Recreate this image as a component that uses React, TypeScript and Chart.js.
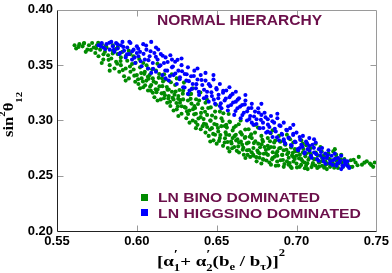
import React, { useEffect, useRef } from "react";
import { Chart, registerables } from "chart.js";

Chart.register(...registerables);

const xTicks = [0.55, 0.6, 0.65, 0.7, 0.75];
const yTicks = [0.2, 0.25, 0.3, 0.35, 0.4];
const titleText = "NORMAL HIERARCHY";
const seriesLabels = ["LN BINO DOMINATED", "LN HIGGSINO DOMINATED"];

const binoPoints: number[][] = [
  [0.561,0.368],[0.562,0.365],[0.564,0.369],[0.566,0.367],[0.567,0.370],[0.569,0.364],[0.570,0.368],[0.568,0.362],[0.572,0.370],[0.573,0.366],
  [0.574,0.361],[0.575,0.368],[0.576,0.358],[0.577,0.364],[0.578,0.369],[0.579,0.355],[0.580,0.362],[0.578,0.352],[0.581,0.366],[0.582,0.359],
  [0.583,0.350],[0.584,0.356],[0.585,0.363],[0.586,0.347],[0.587,0.353],[0.588,0.360],[0.589,0.344],[0.590,0.350],[0.585,0.368],[0.588,0.366],[0.590,0.357],[0.583,0.345],
  [0.591,0.362],[0.592,0.340],[0.593,0.347],[0.594,0.354],[0.595,0.338],[0.596,0.344],[0.597,0.351],[0.598,0.358],[0.599,0.335],[0.600,0.341],[0.598,0.346],[0.593,0.336],[0.596,0.360],
  [0.601,0.333],[0.602,0.348],[0.603,0.338],[0.604,0.330],[0.605,0.344],[0.606,0.336],[0.607,0.327],[0.608,0.341],[0.609,0.332],[0.610,0.325],[0.604,0.352],[0.607,0.347],[0.610,0.338],[0.602,0.329],
  [0.611,0.321],[0.612,0.334],[0.613,0.328],[0.614,0.342],[0.615,0.319],[0.616,0.331],[0.617,0.325],[0.618,0.337],[0.619,0.316],[0.620,0.328],[0.613,0.318],[0.617,0.320],[0.620,0.322],[0.612,0.345],
  [0.621,0.313],[0.622,0.326],[0.623,0.319],[0.624,0.332],[0.625,0.310],[0.626,0.322],[0.627,0.316],[0.628,0.306],[0.629,0.327],[0.630,0.312],[0.623,0.309],[0.626,0.304],[0.629,0.319],[0.625,0.338],
  [0.631,0.302],[0.632,0.318],[0.633,0.309],[0.634,0.324],[0.635,0.300],[0.636,0.313],[0.637,0.306],[0.638,0.296],[0.639,0.318],[0.640,0.303],[0.633,0.298],[0.637,0.293],[0.640,0.292],[0.635,0.329],
  [0.641,0.311],[0.642,0.297],[0.643,0.289],[0.644,0.305],[0.645,0.286],[0.646,0.300],[0.647,0.293],[0.648,0.282],[0.649,0.308],[0.650,0.296],[0.643,0.316],[0.646,0.281],[0.649,0.287],[0.650,0.279],[0.644,0.294],
  [0.651,0.290],[0.652,0.284],[0.653,0.302],[0.654,0.277],[0.655,0.295],[0.656,0.287],[0.657,0.275],[0.658,0.299],[0.659,0.281],[0.660,0.291],[0.652,0.308],[0.655,0.280],[0.658,0.272],[0.660,0.284],[0.656,0.296],
  [0.661,0.276],[0.662,0.295],[0.663,0.283],[0.664,0.271],[0.665,0.289],[0.666,0.278],[0.667,0.269],[0.668,0.285],[0.669,0.273],[0.670,0.292],[0.662,0.287],[0.665,0.300],[0.668,0.266],[0.670,0.280],[0.664,0.280],
  [0.671,0.267],[0.672,0.284],[0.673,0.275],[0.674,0.289],[0.675,0.263],[0.676,0.279],[0.677,0.270],[0.678,0.286],[0.679,0.265],[0.680,0.276],[0.673,0.268],[0.676,0.271],[0.679,0.281],[0.674,0.296],[0.678,0.261],
  [0.681,0.270],[0.682,0.284],[0.683,0.262],[0.684,0.276],[0.685,0.266],[0.686,0.280],[0.687,0.259],[0.688,0.272],[0.689,0.286],[0.690,0.264],[0.682,0.277],[0.685,0.291],[0.688,0.268],[0.690,0.275],[0.684,0.260],
  [0.691,0.269],[0.692,0.258],[0.693,0.278],[0.694,0.263],[0.695,0.271],[0.696,0.283],[0.697,0.257],[0.698,0.267],[0.699,0.274],[0.700,0.261],[0.692,0.273],[0.695,0.260],[0.698,0.280],[0.700,0.268],[0.694,0.287],
  [0.701,0.272],[0.702,0.258],[0.703,0.265],[0.704,0.279],[0.705,0.262],[0.706,0.270],[0.707,0.256],[0.708,0.266],[0.709,0.275],[0.710,0.260],[0.703,0.282],[0.706,0.259],[0.709,0.268],[0.704,0.271],
  [0.711,0.265],[0.712,0.271],[0.713,0.257],[0.714,0.262],[0.715,0.276],[0.716,0.259],[0.717,0.268],[0.718,0.263],[0.719,0.256],[0.720,0.270],[0.712,0.279],[0.716,0.266],[0.719,0.261],
  [0.721,0.258],[0.722,0.264],[0.723,0.272],[0.724,0.260],[0.725,0.267],[0.726,0.257],[0.727,0.263],[0.728,0.269],[0.729,0.259],[0.730,0.265],[0.724,0.274],
  [0.732,0.260],[0.734,0.264],[0.735,0.258],[0.737,0.262],[0.739,0.267],[0.741,0.260],[0.744,0.263],[0.746,0.261],[0.748,0.258],[0.749,0.262],
  [0.5635,0.3665],[0.5712,0.3638],[0.5668,0.3695],[0.5745,0.3652],[0.5791,0.3598],[0.5758,0.3702],[0.5823,0.3548],[0.5849,0.3605],[0.5806,0.3672],[0.5877,0.3512],[0.5868,0.3645],[0.5912,0.3455],[0.5931,0.3582],[0.5898,0.3538],[0.5957,0.3488],[0.5949,0.3631],[0.5984,0.3405],[0.6015,0.3555],[0.5992,0.3522],[0.6038,0.3352],[0.6061,0.3498],[0.6047,0.3421],[0.6083,0.3305],[0.6096,0.3462],[0.6074,0.3378],
  [0.6118,0.3282],[0.6137,0.3385],[0.6129,0.3512],[0.6155,0.3245],[0.6171,0.3418],[0.6188,0.3302],[0.6164,0.3352],[0.6197,0.3198],[0.6213,0.3345],[0.6236,0.3232],[0.6248,0.3158],[0.6219,0.3418],[0.6267,0.3275],[0.6281,0.3128],[0.6295,0.3342],[0.6259,0.3195],[0.6314,0.3082],[0.6328,0.3235],[0.6342,0.3152],[0.6359,0.3055],[0.6371,0.3192],[0.6386,0.3018],[0.6398,0.3252],[0.6365,0.3112],
  [0.6412,0.2948],[0.6427,0.3078],[0.6439,0.3188],[0.6458,0.2918],[0.6471,0.3045],[0.6485,0.2968],[0.6496,0.3142],[0.6463,0.3118],[0.6515,0.2815],[0.6529,0.2948],[0.6542,0.3065],[0.6556,0.2892],[0.6568,0.2805],[0.6583,0.2985],[0.6597,0.2748],[0.6575,0.3058],[0.6611,0.2858],[0.6626,0.2725],[0.6638,0.2965],[0.6652,0.2808],[0.6667,0.2752],[0.6679,0.2918],[0.6694,0.2688],[0.6658,0.2872],
  [0.6707,0.2852],[0.6719,0.2712],[0.6733,0.2795],[0.6748,0.2668],[0.6759,0.2935],[0.6772,0.2758],[0.6786,0.2825],[0.6795,0.2698],[0.6812,0.2638],[0.6826,0.2745],[0.6838,0.2885],[0.6851,0.2712],[0.6867,0.2818],[0.6879,0.2628],[0.6892,0.2748],[0.6863,0.2672],[0.6915,0.2642],[0.6928,0.2785],[0.6942,0.2695],[0.6957,0.2615],[0.6966,0.2755],[0.6981,0.2628],[0.6993,0.2722],[0.6972,0.2682],
  [0.7016,0.2655],[0.7029,0.2598],[0.7043,0.2742],[0.7055,0.2675],[0.7068,0.2612],[0.7082,0.2712],[0.7094,0.2578],[0.7061,0.2775],[0.7118,0.2592],[0.7132,0.2685],[0.7146,0.2625],[0.7158,0.2718],[0.7173,0.2572],[0.7186,0.2665],[0.7195,0.2608],[0.7221,0.2625],[0.7236,0.2572],[0.7248,0.2692],[0.7262,0.2608],[0.7278,0.2648],[0.7291,0.2582],[0.7315,0.2622],[0.7336,0.2578],[0.7358,0.2645],[0.7382,0.2595],[0.7425,0.2618],[0.7468,0.2598],
  [0.6008,0.3372],[0.6027,0.3428],[0.6052,0.3318],[0.6069,0.3395],[0.6088,0.3268],[0.6105,0.3352],[0.6123,0.3255],[0.6142,0.3308],[0.6158,0.3382],[0.6176,0.3228],[0.6192,0.3278],[0.6208,0.3168],[0.6224,0.3205],[0.6243,0.3262],[0.6257,0.3128],[0.6273,0.3185],[0.6288,0.3242],[0.6306,0.3115],[0.6321,0.3058],[0.6337,0.3195],[0.6352,0.3102],[0.6368,0.2985],[0.6383,0.3148],[0.6402,0.3068],
  [0.6418,0.3012],[0.6433,0.2965],[0.6447,0.3112],[0.6462,0.2998],[0.6478,0.2878],[0.6493,0.3025],[0.6508,0.2932],[0.6523,0.2868],[0.6537,0.2995],[0.6552,0.2838],[0.6564,0.2935],[0.6579,0.2868],[0.6593,0.2792],[0.6608,0.2935],[0.6622,0.2818],[0.6635,0.2765],[0.6649,0.2892],[0.6663,0.2735],[0.6676,0.2842],[0.6689,0.2792],[0.6703,0.2732],[0.6716,0.2875],[0.6729,0.2688],[0.6742,0.2812],
  [0.6755,0.2728],[0.6768,0.2662],[0.6781,0.2785],[0.6793,0.2645],[0.6808,0.2732],[0.6821,0.2688],[0.6834,0.2812],[0.6847,0.2648],[0.6859,0.2758],[0.6873,0.2702],[0.6886,0.2592],[0.6898,0.2808],[0.6911,0.2688],[0.6924,0.2605],[0.6937,0.2735],[0.6951,0.2662],[0.6963,0.2582],[0.6977,0.2708],[0.6989,0.2652],[0.7003,0.2575],[0.7021,0.2688],[0.7037,0.2632],[0.7052,0.2568],[0.7074,0.2645],
  [0.7089,0.2692],[0.7103,0.2615],[0.7124,0.2648],[0.7141,0.2582],[0.7163,0.2632],[0.7181,0.2598],[0.7205,0.2652],[0.7228,0.2608],[0.7252,0.2635],[0.7285,0.2618]
];

const higgsinoPoints: number[][] = [
  [0.576,0.368],[0.578,0.370],[0.579,0.366],[0.581,0.369],[0.583,0.364],[0.584,0.371],[0.585,0.367],
  [0.586,0.362],[0.587,0.370],[0.588,0.365],[0.589,0.360],[0.590,0.368],[0.591,0.371],[0.592,0.363],[0.593,0.357],[0.594,0.366],[0.595,0.360],
  [0.596,0.370],[0.597,0.355],[0.598,0.364],[0.599,0.352],[0.600,0.367],[0.601,0.358],[0.602,0.362],[0.603,0.349],[0.604,0.369],[0.605,0.355],[0.600,0.361],
  [0.606,0.364],[0.607,0.347],[0.608,0.358],[0.609,0.371],[0.610,0.352],[0.611,0.361],[0.612,0.344],[0.613,0.355],[0.614,0.349],[0.615,0.360],[0.609,0.343],[0.612,0.366],
  [0.616,0.341],[0.617,0.352],[0.618,0.357],[0.619,0.345],[0.620,0.336],[0.621,0.359],[0.622,0.348],[0.623,0.341],[0.624,0.353],[0.625,0.333],[0.618,0.338],[0.622,0.355],
  [0.626,0.345],[0.627,0.339],[0.628,0.350],[0.629,0.330],[0.630,0.342],[0.631,0.336],[0.632,0.348],[0.633,0.327],[0.634,0.340],[0.635,0.333],[0.628,0.356],[0.632,0.324],
  [0.636,0.345],[0.637,0.329],[0.638,0.337],[0.639,0.323],[0.640,0.341],[0.641,0.332],[0.642,0.320],[0.643,0.336],[0.644,0.326],[0.645,0.317],[0.638,0.347],[0.643,0.343],
  [0.646,0.331],[0.647,0.322],[0.648,0.337],[0.649,0.315],[0.650,0.328],[0.651,0.320],[0.652,0.333],[0.653,0.311],[0.654,0.325],[0.655,0.318],[0.648,0.341],[0.652,0.313],
  [0.656,0.327],[0.657,0.309],[0.658,0.321],[0.659,0.314],[0.660,0.324],[0.661,0.305],[0.662,0.317],[0.663,0.311],[0.664,0.320],[0.665,0.302],[0.658,0.330],[0.662,0.326],
  [0.666,0.314],[0.667,0.307],[0.668,0.318],[0.669,0.300],[0.670,0.311],[0.671,0.304],[0.672,0.315],[0.673,0.296],[0.674,0.308],[0.675,0.301],[0.668,0.323],[0.672,0.298],
  [0.676,0.311],[0.677,0.293],[0.678,0.305],[0.679,0.298],[0.680,0.307],[0.681,0.289],[0.682,0.301],[0.683,0.294],[0.684,0.304],[0.685,0.285],[0.678,0.315],[0.682,0.290],
  [0.686,0.298],[0.687,0.290],[0.688,0.302],[0.689,0.282],[0.690,0.295],[0.691,0.287],[0.692,0.298],[0.693,0.279],[0.694,0.291],[0.695,0.284],[0.688,0.306],[0.692,0.283],
  [0.696,0.293],[0.697,0.277],[0.698,0.288],[0.699,0.281],[0.700,0.289],[0.701,0.273],[0.702,0.285],[0.703,0.278],[0.704,0.286],[0.705,0.270],[0.698,0.296],[0.702,0.275],
  [0.706,0.281],[0.707,0.274],[0.708,0.284],[0.709,0.268],[0.710,0.278],[0.711,0.271],[0.712,0.280],[0.713,0.265],[0.714,0.274],[0.715,0.268],[0.708,0.277],[0.711,0.283],
  [0.716,0.275],[0.717,0.263],[0.718,0.270],[0.719,0.266],[0.720,0.273],[0.721,0.261],[0.722,0.268],[0.723,0.264],[0.724,0.270],[0.725,0.259],
  [0.726,0.266],[0.727,0.262],[0.728,0.268],[0.729,0.258],[0.730,0.264],[0.731,0.260],[0.732,0.263],[0.733,0.257],[0.728,0.256],
  [0.5773,0.3672],[0.5802,0.3645],[0.5828,0.3702],[0.5856,0.3638],[0.5879,0.3688],[0.5897,0.3612],[0.5915,0.3665],[0.5938,0.3598],[0.5953,0.3712],[0.5971,0.3625],[0.5986,0.3568],[0.6009,0.3648],[0.6024,0.3535],[0.6042,0.3602],[0.6058,0.3678],[0.6073,0.3545],[0.6086,0.3625],[0.6102,0.3468],[0.6119,0.3575],[0.6134,0.3642],
  [0.6148,0.3498],[0.6162,0.3585],[0.6178,0.3452],[0.6193,0.3528],[0.6207,0.3402],[0.6226,0.3488],[0.6241,0.3425],[0.6255,0.3548],[0.6268,0.3372],[0.6283,0.3445],[0.6299,0.3298],[0.6312,0.3418],[0.6326,0.3355],[0.6344,0.3285],[0.6357,0.3402],[0.6373,0.3328],[0.6388,0.3258],[0.6405,0.3365],[0.6421,0.3278],[0.6436,0.3215],
  [0.6451,0.3328],[0.6467,0.3255],[0.6482,0.3188],[0.6498,0.3292],[0.6512,0.3232],[0.6526,0.3155],[0.6541,0.3268],[0.6557,0.3198],[0.6572,0.3128],[0.6588,0.3225],[0.6603,0.3162],[0.6618,0.3085],[0.6632,0.3188],[0.6647,0.3125],[0.6661,0.3048],[0.6676,0.3145],[0.6691,0.3082],[0.6705,0.3012],[0.6718,0.3112],[0.6734,0.3035],
  [0.6749,0.2968],[0.6763,0.3072],[0.6777,0.3005],[0.6792,0.2932],[0.6806,0.3028],[0.6821,0.2962],[0.6835,0.2888],[0.6849,0.2992],[0.6864,0.2925],[0.6878,0.2848],[0.6893,0.2955],[0.6907,0.2878],[0.6921,0.2812],[0.6936,0.2915],[0.6951,0.2845],[0.6965,0.2778],[0.6979,0.2868],[0.6994,0.2802],[0.7008,0.2742],[0.7023,0.2825],
  [0.7037,0.2762],[0.7052,0.2712],[0.7066,0.2792],[0.7081,0.2728],[0.7095,0.2662],[0.7109,0.2752],[0.7124,0.2695],[0.7138,0.2635],[0.7153,0.2715],[0.7167,0.2658],[0.7182,0.2608],[0.7196,0.2685],[0.7211,0.2632],[0.7226,0.2598],[0.7241,0.2652],[0.7256,0.2612],[0.7272,0.2635],[0.7288,0.2592],[0.7305,0.2618],[0.7322,0.2585]
];

const GREEN = "#008b00";
const BLUE = "#0000ff";
const MAROON = "#6b0f4a";
const SANS = "'Liberation Sans', Arial, sans-serif";
const SERIF = "'Liberation Serif', 'Times New Roman', serif";

type Run = { t: string; s: number; dy: number; stack?: boolean };

const xTitleRuns: Run[] = [
  { t: "[", s: 15, dy: 0 },
  { t: "\u03b1", s: 15, dy: 0 },
  { t: "1", s: 10, dy: 5 },
  { t: "\u2032", s: 12, dy: -8, stack: true },
  { t: "+ ", s: 15, dy: 0 },
  { t: "\u03b1", s: 15, dy: 0 },
  { t: "2", s: 10, dy: 5 },
  { t: "\u2032", s: 12, dy: -8, stack: true },
  { t: "(b", s: 15, dy: 0 },
  { t: "e", s: 10, dy: 4 },
  { t: " / b", s: 15, dy: 0 },
  { t: "\u03c4", s: 10, dy: 4 },
  { t: ")]", s: 15, dy: 0 },
  { t: "2", s: 10, dy: -10 },
];

const yTitleRuns: Run[] = [
  { t: "sin", s: 14, dy: 0 },
  { t: "2", s: 9, dy: -8 },
  { t: "\u03b8", s: 14, dy: 0 },
  { t: "12", s: 9, dy: 9 },
];

function layoutRuns(ctx: CanvasRenderingContext2D, runs: Run[], family: string) {
  let x = 0;
  let prevStart = 0;
  let prevEnd = 0;
  const items: { r: Run; x: number }[] = [];
  for (const r of runs) {
    ctx.font = `bold ${r.s}px ${family}`;
    const w = ctx.measureText(r.t).width;
    const start = r.stack ? prevStart : x;
    items.push({ r, x: start });
    const end = start + w;
    x = r.stack ? Math.max(prevEnd, end) : end;
    prevStart = start;
    prevEnd = x;
  }
  return { items, width: x };
}

function drawRuns(ctx: CanvasRenderingContext2D, runs: Run[], family: string, left: number, baseline: number, targetWidth: number) {
  const { items, width } = layoutRuns(ctx, runs, family);
  const sx = targetWidth / width;
  ctx.save();
  ctx.translate(left, baseline);
  ctx.scale(sx, 1);
  ctx.fillStyle = "#000";
  ctx.textBaseline = "alphabetic";
  ctx.textAlign = "left";
  for (const it of items) {
    ctx.font = `bold ${it.r.s}px ${family}`;
    ctx.fillText(it.r.t, it.x, it.r.dy);
  }
  ctx.restore();
}

function drawFit(ctx: CanvasRenderingContext2D, text: string, left: number, baseline: number, width: number, font: string, color: string) {
  ctx.save();
  ctx.font = font;
  const w = ctx.measureText(text).width;
  ctx.translate(left, baseline);
  ctx.scale(width / w, 1);
  ctx.fillStyle = color;
  ctx.textAlign = "left";
  ctx.textBaseline = "alphabetic";
  ctx.fillText(text, 0, 0);
  ctx.restore();
}

const decorPlugin = {
  id: "decor",
  afterDraw(chart: any) {
    const { ctx, chartArea: a, scales } = chart;
    const xs = scales.x;
    const ys = scales.y;
    const L = Math.round(a.left) + 0.5;
    const R = Math.round(a.right) + 0.5;
    const T = Math.round(a.top) + 0.5;
    const B = Math.round(a.bottom) + 0.5;
    ctx.save();
    ctx.lineWidth = 1;
    ctx.strokeStyle = "#9a9a9a";
    ctx.beginPath();
    ctx.moveTo(L, T);
    ctx.lineTo(R, T);
    ctx.lineTo(R, B);
    ctx.stroke();
    ctx.beginPath();
    for (const v of xTicks.slice(1, -1)) {
      const p = Math.round(xs.getPixelForValue(v)) + 0.5;
      ctx.moveTo(p, T);
      ctx.lineTo(p, T + 6);
      ctx.moveTo(p, B);
      ctx.lineTo(p, B - 6);
    }
    for (const v of yTicks.slice(1, -1)) {
      const p = Math.round(ys.getPixelForValue(v)) + 0.5;
      ctx.moveTo(L, p);
      ctx.lineTo(L + 6, p);
      ctx.moveTo(R, p);
      ctx.lineTo(R - 6, p);
    }
    ctx.stroke();
    ctx.strokeStyle = "#222";
    ctx.beginPath();
    ctx.moveTo(L, T);
    ctx.lineTo(L, B);
    ctx.lineTo(R, B);
    ctx.stroke();
    ctx.restore();

    drawFit(ctx, titleText, 157, 25, 165, `bold 15px ${SANS}`, MAROON);
    ctx.save();
    ctx.fillStyle = GREEN;
    ctx.fillRect(141, 194, 7, 7);
    ctx.fillStyle = BLUE;
    ctx.fillRect(141, 209, 7, 7);
    ctx.restore();
    drawFit(ctx, seriesLabels[0], 158, 202, 162, `bold 13px ${SANS}`, MAROON);
    drawFit(ctx, seriesLabels[1], 158, 217.5, 203, `bold 13px ${SANS}`, MAROON);

    drawRuns(ctx, xTitleRuns, SERIF, 157, 266, 128);
    ctx.save();
    ctx.translate(13, 137);
    ctx.rotate(-Math.PI / 2);
    drawRuns(ctx, yTitleRuns, SERIF, 0, 0, 45);
    ctx.restore();
  },
};

export default function App() {
  const ref = useRef<HTMLCanvasElement | null>(null);
  useEffect(() => {
    document.body.style.margin = "0";
    const canvas = ref.current;
    if (!canvas) return;
    const chart = new Chart(canvas, {
      type: "scatter",
      data: {
        datasets: [
          {
            label: seriesLabels[1],
            data: higgsinoPoints.map(([x, y]) => ({ x, y })),
            backgroundColor: BLUE,
            borderWidth: 0,
            pointRadius: 2.05,
          },
          {
            label: seriesLabels[0],
            data: binoPoints.map(([x, y]) => ({ x, y })),
            backgroundColor: GREEN,
            borderWidth: 0,
            pointRadius: 2.05,
          },
        ],
      },
      options: {
        responsive: false,
        animation: false,
        events: [],
        layout: { padding: { top: 6, right: 14, left: 0, bottom: 0 } },
        plugins: { legend: { display: false }, tooltip: { enabled: false }, title: { display: false } },
        scales: {
          x: {
            type: "linear",
            min: 0.55,
            max: 0.75,
            afterFit: (s: any) => { s.height = 42; },
            afterBuildTicks: (s: any) => { s.ticks = xTicks.map((v) => ({ value: v })); },
            grid: { display: false, drawTicks: false },
            border: { display: false },
            ticks: {
              padding: 3,
              color: "#000",
              maxRotation: 0,
              autoSkip: false,
              font: { family: SANS, size: 13, weight: "bold" },
              callback: (v: any) => Number(v).toFixed(2),
            },
          },
          y: {
            type: "linear",
            min: 0.2,
            max: 0.4,
            afterFit: (s: any) => { s.width = 57; },
            afterBuildTicks: (s: any) => { s.ticks = yTicks.map((v) => ({ value: v })); },
            grid: { display: false, drawTicks: false },
            border: { display: false },
            ticks: {
              padding: 4,
              color: "#000",
              autoSkip: false,
              font: { family: SANS, size: 13, weight: "bold", lineHeight: 0.9 },
              callback: (v: any) => Number(v).toFixed(2),
            },
          },
        },
      },
      plugins: [decorPlugin],
    } as any);
    return () => chart.destroy();
  }, []);
  return <canvas ref={ref} width={392} height={273} style={{ display: "block", width: 392, height: 273 }} />;
}
